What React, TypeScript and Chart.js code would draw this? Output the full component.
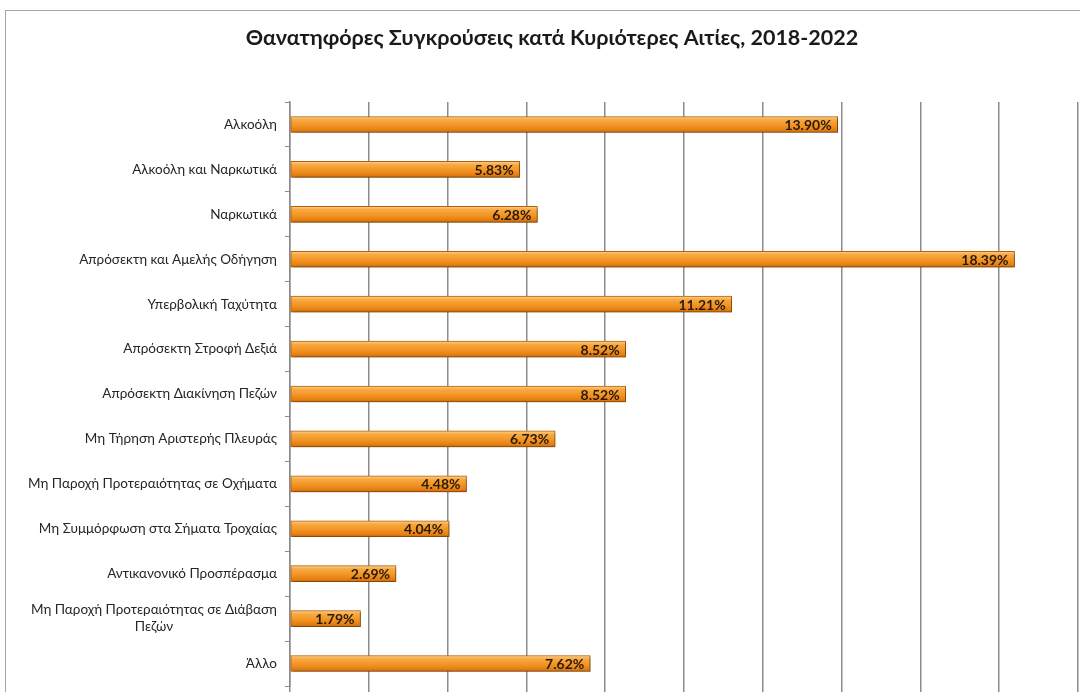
import React, { useEffect, useRef } from "react";
import { Chart, registerables } from "chart.js";

Chart.register(...registerables);

const TITLE = "Θανατηφόρες Συγκρούσεις κατά Κυριότερες Αιτίες, 2018-2022";
const categories: (string | string[])[] = [
  "Αλκοόλη",
  "Αλκοόλη και Ναρκωτικά",
  "Ναρκωτικά",
  "Απρόσεκτη και Αμελής Οδήγηση",
  "Υπερβολική Ταχύτητα",
  "Απρόσεκτη Στροφή Δεξιά",
  "Απρόσεκτη Διακίνηση Πεζών",
  "Μη Τήρηση Αριστερής Πλευράς",
  "Μη Παροχή Προτεραιότητας σε Οχήματα",
  "Μη Συμμόρφωση στα Σήματα Τροχαίας",
  "Αντικανονικό Προσπέρασμα",
  ["Μη Παροχή Προτεραιότητας σε Διάβαση", "Πεζών"],
  "Άλλο",
];
const values = [13.9, 5.83, 6.28, 18.39, 11.21, 8.52, 8.52, 6.73, 4.48, 4.04, 2.69, 1.79, 7.62];
const xMin = 0;
const xMax = 20;
const xStep = 2;

const FONT = "Lato, 'Noto Sans', sans-serif";

const framePlugin = {
  id: "frame",
  beforeDraw(chart: any) {
    const ctx = chart.ctx;
    ctx.save();
    ctx.fillStyle = "#ffffff";
    ctx.fillRect(0, 0, chart.width, chart.height);
    ctx.strokeStyle = "#a6a6a6";
    ctx.lineWidth = 1;
    ctx.strokeRect(5.5, 10.5, chart.width + 20, chart.height + 20);
    ctx.font = `bold 21.5px ${FONT}`;
    ctx.fillStyle = "#1a1a1a";
    ctx.textAlign = "center";
    ctx.textBaseline = "middle";
    ctx.fillText(TITLE, 552, 38);
    ctx.restore();
  },
};

const shadowPlugin = {
  id: "barShadow",
  beforeDatasetDraw(chart: any) {
    const ctx = chart.ctx;
    ctx.save();
    ctx.shadowColor = "rgba(0,0,0,0.35)";
    ctx.shadowOffsetX = 2;
    ctx.shadowOffsetY = 2;
    ctx.shadowBlur = 3;
  },
  afterDatasetDraw(chart: any) {
    chart.ctx.restore();
  },
};

const labelPlugin = {
  id: "labels",
  afterDatasetsDraw(chart: any) {
    const ctx = chart.ctx;
    const meta = chart.getDatasetMeta(0);
    ctx.save();
    ctx.font = `bold 14px ${FONT}`;
    ctx.fillStyle = "#2a1a08";
    ctx.textAlign = "right";
    ctx.textBaseline = "middle";
    meta.data.forEach((bar: any, i: number) => {
      ctx.fillText(values[i].toFixed(2) + "%", bar.x - 6, bar.y + 1);
    });
    // category labels
    const y = chart.scales.y;
    const right = chart.chartArea.left - 13;
    ctx.font = `13.5px ${FONT}`;
    ctx.fillStyle = "#262626";
    categories.forEach((c, i) => {
      const cy = y.getPixelForValue(i);
      if (Array.isArray(c)) {
        const widths = c.map((s) => ctx.measureText(s).width);
        const maxW = Math.max(...widths);
        const cx = right - maxW / 2;
        ctx.textAlign = "center";
        const lh = 17;
        c.forEach((s, k) => {
          ctx.fillText(s, cx, cy + (k - (c.length - 1) / 2) * lh);
        });
      } else {
        ctx.textAlign = "right";
        ctx.fillText(c, right, cy);
      }
    });
    ctx.restore();
  },
};

function barGradient(context: any) {
  const chart = context.chart;
  const y = chart.scales?.y;
  if (!y || !chart.chartArea) return "#f39a2a";
  const cy = y.getPixelForValue(context.dataIndex);
  const h = 16;
  const g = chart.ctx.createLinearGradient(0, cy - h / 2, 0, cy + h / 2);
  g.addColorStop(0, "#fcd494");
  g.addColorStop(0.2, "#f7aa44");
  g.addColorStop(0.55, "#f39524");
  g.addColorStop(0.85, "#e47f12");
  g.addColorStop(1, "#c2650a");
  return g;
}

export default function App() {
  const ref = useRef<HTMLCanvasElement>(null);
  useEffect(() => {
    document.body.style.margin = "0";
    const chart = new Chart(ref.current!, {
      type: "bar",
      data: {
        labels: categories as any,
        datasets: [
          {
            data: values,
            backgroundColor: barGradient,
            borderColor: "#b8600a",
            borderWidth: 1,
            borderSkipped: false,
            barThickness: 16,
          },
        ],
      },
      options: {
        indexAxis: "y",
        responsive: false,
        animation: false,
        layout: { padding: { left: 0, right: 2, top: 102, bottom: 0 } },
        plugins: {
          legend: { display: false },
          tooltip: { enabled: false },
          title: { display: false },
        },
        scales: {
          x: {
            min: xMin,
            max: xMax,
            ticks: { display: false, stepSize: xStep },
            grid: { color: "#8c8c8c", lineWidth: 1.5, drawTicks: true, tickLength: 6 },
            border: { display: false },
          },
          y: {
            ticks: { display: false },
            grid: { drawOnChartArea: false, offset: true, color: "#8c8c8c", tickLength: 5 },
            border: { display: true, color: "#8c8c8c", width: 1.5 },
            afterFit(scale: any) {
              scale.width = 290;
            },
          },
        },
      },
      plugins: [framePlugin, shadowPlugin, labelPlugin],
    });
    return () => chart.destroy();
  }, []);
  return <canvas ref={ref} width={1080} height={692} style={{ display: "block" }} />;
}
